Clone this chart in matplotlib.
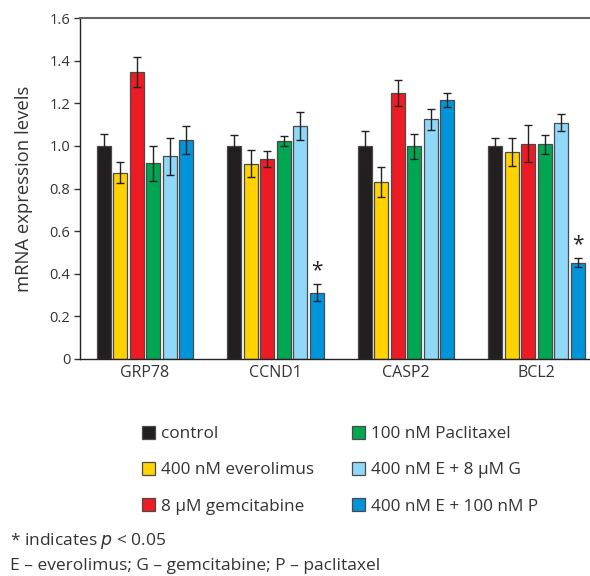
import matplotlib
matplotlib.use("Agg")
import matplotlib.pyplot as plt
from matplotlib.patches import Patch
import numpy as np

plt.rcParams['font.family'] = ['Open Sans', 'DejaVu Sans']

genes = ["GRP78", "CCND1", "CASP2", "BCL2"]
treatments = ["control", "400 nM everolimus", "8 μM gemcitabine",
              "100 nM Paclitaxel", "400 nM E + 8 μM G", "400 nM E + 100 nM P"]
colors = ["#231f20", "#ffd200", "#ed1c24", "#00a651", "#8fd8f8", "#0095da"]

# values per treatment, across genes
means = {
    "control":             [1.00, 1.00, 1.00, 1.00],
    "400 nM everolimus":   [0.875, 0.917, 0.829, 0.970],
    "8 μM gemcitabine":    [1.345, 0.939, 1.247, 1.011],
    "100 nM Paclitaxel":   [0.918, 1.022, 0.998, 1.007],
    "400 nM E + 8 μM G":   [0.951, 1.094, 1.125, 1.109],
    "400 nM E + 100 nM P": [1.027, 0.311, 1.216, 0.452],
}
errors = {
    "control":             [0.058, 0.053, 0.070, 0.039],
    "400 nM everolimus":   [0.050, 0.063, 0.071, 0.065],
    "8 μM gemcitabine":    [0.070, 0.039, 0.062, 0.087],
    "100 nM Paclitaxel":   [0.082, 0.023, 0.060, 0.045],
    "400 nM E + 8 μM G":   [0.088, 0.065, 0.049, 0.039],
    "400 nM E + 100 nM P": [0.066, 0.040, 0.034, 0.020],
}
significant = {"400 nM E + 100 nM P": [False, True, False, True]}

fig = plt.figure(figsize=(5.9, 5.76), dpi=100)
ax = fig.add_axes([80/590, 1-359/576, 1-80/590, (359-18)/576])

x = np.arange(len(genes))
step = 0.1264
width = 0.107
for i, t in enumerate(treatments):
    pos = x + (i - 2.5) * step
    ax.bar(pos, means[t], width=width, color=colors[i], edgecolor="#4a4a4a",
           linewidth=0.9, zorder=2)
    ax.errorbar(pos, means[t], yerr=errors[t], fmt="none", ecolor="#222222",
                elinewidth=1.0, capsize=2.6, capthick=1.0, zorder=3)
    if t in significant:
        for j, s in enumerate(significant[t]):
            if s:
                ax.text(pos[j], means[t][j] + errors[t][j] + 0.015, "*",
                        ha="center", va="bottom", fontsize=15, color="#222222")

ax.set_xlim(-0.498, 3.41)
ax.set_ylim(0, 1.6)
ax.set_yticks(np.arange(0, 1.61, 0.2))
ax.set_yticklabels(["0"] + [f"{v:.1f}" for v in np.arange(0.2, 1.61, 0.2)])
ax.set_xticks(x)
ax.set_xticklabels(genes)
ax.tick_params(axis="x", length=0, labelsize=11.5, colors="#333333", pad=4)
ax.tick_params(axis="y", length=4, width=1, labelsize=10.5, colors="#333333", pad=3)
ax.set_ylabel("mRNA expression levels", fontsize=13.3, color="#333333", labelpad=12)
ax.spines["right"].set_visible(False)
ax.spines["top"].set_color("#666666")
ax.spines["top"].set_linewidth(1.5)
for s in ["left", "bottom"]:
    ax.spines[s].set_color("#222222")
    ax.spines[s].set_linewidth(1.0)

handles = [Patch(facecolor=c, edgecolor="#4a4a4a", linewidth=0.9) for c in colors]
fig.legend(handles, treatments, ncol=2, loc="upper left",
           bbox_to_anchor=(127/590, 1-411/576), frameon=False,
           fontsize=12.3, handlelength=0.72, handleheight=0.72, handletextpad=0.36,
           labelspacing=1.17, columnspacing=2.25, labelcolor="#333333")

fig.text(10/590, 1-541/576, "* indicates $\\it{p}$ < 0.05", fontsize=12.5,
         color="#333333", va="center", ha="left")
fig.text(10/590, 1-566/576, "E – everolimus; G – gemcitabine; P – paclitaxel",
         fontsize=12.5, color="#333333", va="center", ha="left")

fig.savefig("out.png", dpi=100)
